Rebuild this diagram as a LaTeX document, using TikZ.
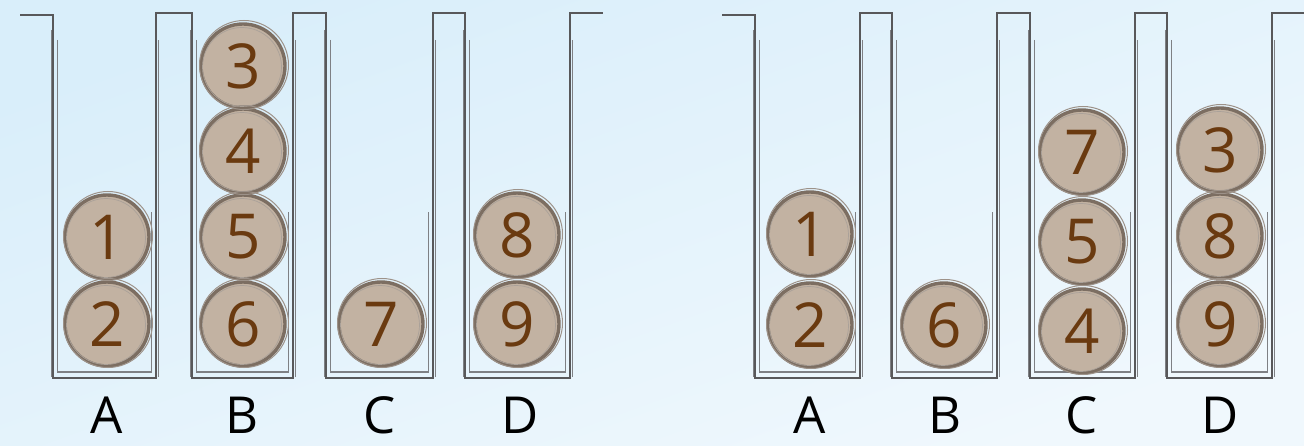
\documentclass[tikz,border=0pt]{standalone}
\usepackage{fontspec}
\setmainfont{Open Sans}
\definecolor{bgtop}{HTML}{D9EEFA}
\definecolor{bgbot}{HTML}{F0F8FD}
\definecolor{wall}{HTML}{58585A}
\definecolor{wallin}{HTML}{7E8084}
\definecolor{ballfill}{HTML}{C2B2A2}
\definecolor{ballline}{HTML}{7C6E62}
\definecolor{digit}{HTML}{6A3A10}
\tikzset{
  ball/.style={circle, minimum size=84pt, inner sep=0pt, fill=ballfill,
    draw=ballline, line width=3.4pt, text=digit,
    font=\fontsize{62}{62}\selectfont},
  tubeline/.style={draw=wall, line width=2.8pt, line join=miter},
  tubeinner/.style={draw=wallin, line width=1.2pt},
  tubelabel/.style={font=\fontsize{51}{51}\selectfont, text=black, inner sep=0pt, anchor=base},
}
\begin{document}
\begin{tikzpicture}[x=1pt,y=-1pt]
\useasboundingbox (0,0) rectangle (1304,446);
\fill[shading=axis, top color=bgtop, bottom color=bgbot, shading angle=20] (0,0) rectangle (1304,446);
\foreach \a/\b in {53/156,192/293,326/433,465/570,755/860,892/997,1030/1135,1167/1272}{
  \draw[tubeinner] (\a+4.5,40) -- (\a+4.5,372) -- (\b-4.5,372) -- (\b-4.5,212);
  \draw[wallin, line width=0.9pt] (\a-2,30) -- (\a-2,377);
  \draw[wallin, line width=0.9pt] (\b+2,377) -- (\b+2,40);
}
% left group tubes
\draw[tubeline] (20,15) -- (53,15) -- (53,378) -- (156,378) -- (156,13) -- (192,13) -- (192,378) -- (293,378) -- (293,13) -- (326,13) -- (326,378) -- (433,378) -- (433,13) -- (465,13) -- (465,378) -- (570,378) -- (570,13) -- (603,13);
% right group tubes
\draw[tubeline] (722,15) -- (755,15) -- (755,378) -- (860,378) -- (860,13) -- (892,13) -- (892,378) -- (997,378) -- (997,13) -- (1030,13) -- (1030,378) -- (1135,378) -- (1135,13) -- (1167,13) -- (1167,378) -- (1272,378) -- (1272,13) -- (1304,13);
% left balls
\node[ball] (la1) at (107,237) {1};
\node[ball] (la2) at (107,324) {2};
\node[ball] (lb3) at (243,66) {3};
\node[ball] (lb4) at (243,151) {4};
\node[ball] (lb5) at (243,237) {5};
\node[ball] (lb6) at (243,324) {6};
\node[ball] (lc7) at (381,324) {7};
\node[ball] (ld8) at (517,235) {8};
\node[ball] (ld9) at (517,324) {9};
% right balls
\node[ball] (ra1) at (810,234) {1};
\node[ball] (ra2) at (810,325) {2};
\node[ball] (rb6) at (944,325) {6};
\node[ball] (rc7) at (1082,152) {7};
\node[ball] (rc5) at (1082,242) {5};
\node[ball] (rc4) at (1082,331) {4};
\node[ball] (rd3) at (1220,150) {3};
\node[ball] (rd8) at (1220,236) {8};
\node[ball] (rd9) at (1220,324) {9};
% sketchy rims
\foreach \n in {la1,la2,lb3,lb4,lb5,lb6,lc7,ld8,ld9,ra1,ra2,rb6,rc7,rc5,rc4,rd3,rd8,rd9}{
  \draw[ballline!75!white, line width=1pt] ([shift={(1,-1)}]\n.center) circle (44.5);
  \draw[ballline!65!white, line width=0.7pt] ([shift={(-1,1)}]\n.center) circle (39.5);
}
% labels
\node[tubelabel] (lA) at (107,433) {A};
\node[tubelabel] (lB) at (242,433) {B};
\node[tubelabel] (lC) at (380,433) {C};
\node[tubelabel] (lD) at (520,433) {D};
\node[tubelabel] (rA) at (810,433) {A};
\node[tubelabel] (rB) at (945,433) {B};
\node[tubelabel] (rC) at (1082,433) {C};
\node[tubelabel] (rD) at (1220,433) {D};
\end{tikzpicture}
\end{document}
